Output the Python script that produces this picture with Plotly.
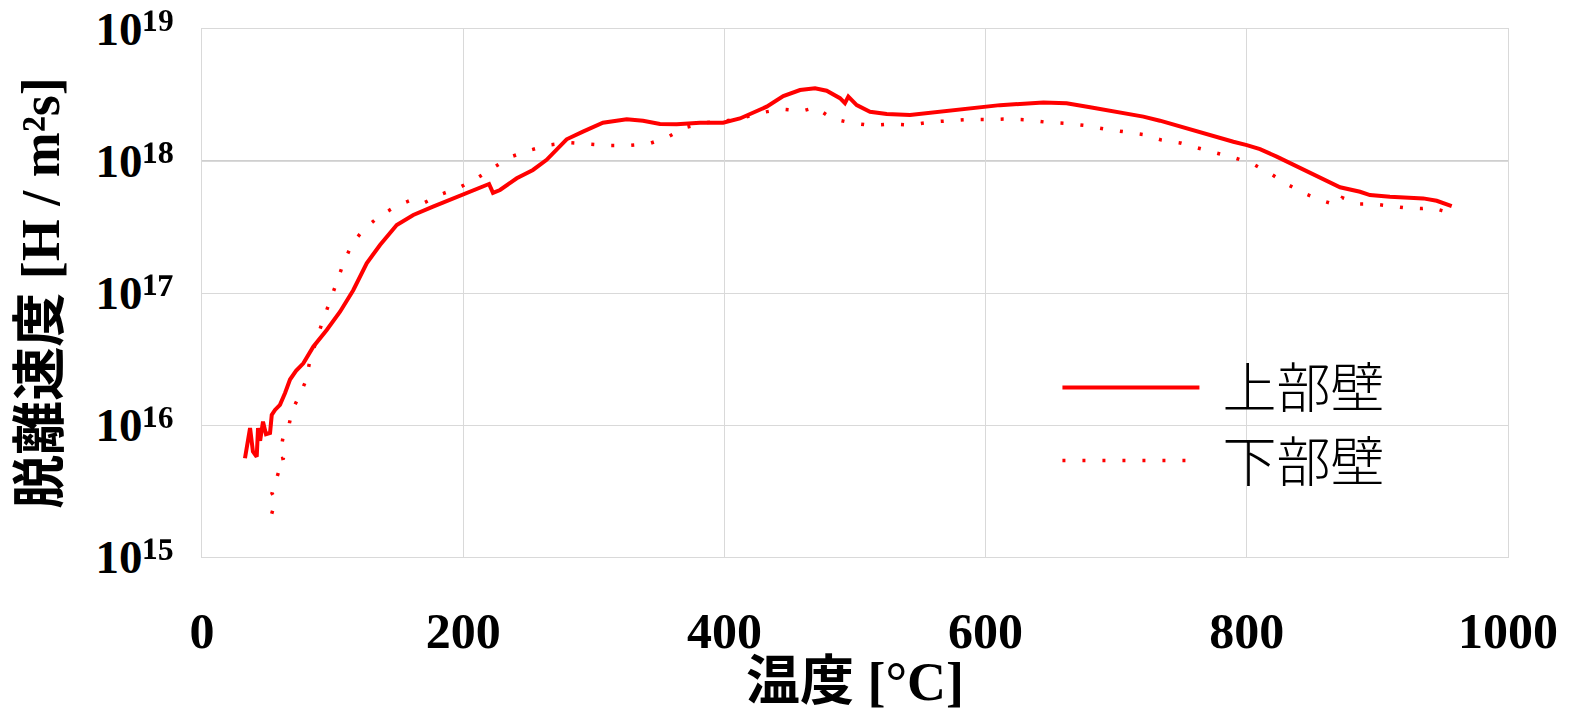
import plotly.graph_objects as go

# ---- data ----
upper_T = [32.9, 36.8, 39.0, 41.9, 42.9, 44.5, 46.7, 49.0, 52.1, 53.4, 55.9, 59.7, 63.6, 67.4, 72.0,
           77.6, 85.2, 95.5, 105.7, 115.8, 126.1, 136.3, 149.1, 161.8, 176.9, 190.0, 202.7, 215.4,
           219.8, 222.8, 228.2, 241.0, 253.4, 263.9, 279.2, 291.7, 307.0, 325.2, 337.7, 350.7, 363.5,
           381.3, 399.0, 411.9, 432.4, 445.1, 457.9, 469.4, 478.3, 488.5, 492.3, 494.9, 501.3, 511.5,
           524.3, 542.1, 560.0, 585.5, 611.0, 644.2, 662.0, 680.0, 705.4, 720.8, 733.5, 748.9, 761.6,
           777.0, 789.7, 800.0, 810.1, 822.9, 833.1, 845.9, 858.6, 871.4, 886.7, 894.3, 909.6, 924.9,
           935.1, 945.4, 950.5, 956.9]
upper_V = [5.60e15, 9.48e15, 6.31e15, 5.75e15, 9.48e15, 7.59e15, 1.06e16, 8.51e15, 8.71e15, 1.19e16,
           1.30e16, 1.42e16, 1.75e16, 2.21e16, 2.57e16, 2.93e16, 3.92e16, 5.25e16, 7.21e16, 1.05e17,
           1.68e17, 2.31e17, 3.27e17, 3.90e17, 4.51e17, 5.07e17, 5.69e17, 6.38e17, 6.70e17, 5.73e17,
           6.03e17, 7.40e17, 8.55e17, 1.02e18, 1.46e18, 1.67e18, 1.95e18, 2.07e18, 2.02e18, 1.91e18,
           1.90e18, 1.95e18, 1.95e18, 2.10e18, 2.58e18, 3.10e18, 3.45e18, 3.56e18, 3.41e18, 2.99e18,
           2.74e18, 3.07e18, 2.65e18, 2.36e18, 2.27e18, 2.23e18, 2.34e18, 2.51e18, 2.65e18, 2.77e18,
           2.74e18, 2.55e18, 2.32e18, 2.17e18, 2.02e18, 1.82e18, 1.67e18, 1.51e18, 1.40e18, 1.32e18,
           1.23e18, 1.08e18, 9.62e17, 8.30e17, 7.18e17, 6.32e17, 5.85e17, 5.52e17, 5.37e17, 5.27e17,
           5.21e17, 5.00e17, 4.83e17, 4.56e17]

lower_T = [53.4, 55.1, 56.4, 53.6, 55.1, 56.9, 60.6, 59.0, 62.3, 63.8, 61.3, 62.0, 65.8, 69.1, 74.0,
           79.6, 82.7, 92.4, 97.8, 103.1, 108.5, 115.1, 124.3, 136.1, 148.8, 161.6, 170.2, 183.5,
           197.8, 210.0, 222.6, 235.8, 250.2, 264.9, 280.5, 295.8, 311.4, 326.7, 342.0, 356.3, 369.8,
           385.0, 400.0, 415.0, 430.0, 443.9, 459.2, 469.9, 482.6, 497.5, 512.5, 527.3, 542.1, 556.9,
           571.7, 586.3, 601.8, 616.6, 631.9, 646.0, 660.8, 675.9, 690.9, 705.2, 720.3, 734.8, 749.1,
           763.2, 776.4, 791.5, 805.7, 818.5, 831.5, 844.6, 857.8, 869.6, 873.1, 886.2, 897.2, 909.4,
           921.9, 933.9, 941.8, 949.5, 957.1]
lower_V = [2.13e15, 2.40e15, 2.70e15, 3.04e15, 3.45e15, 3.88e15, 5.07e15, 5.52e15, 5.60e15, 6.58e15,
           7.31e15, 8.02e15, 9.16e15, 1.30e16, 1.62e16, 2.17e16, 3.10e16, 6.14e16, 8.55e16, 1.21e17,
           1.70e17, 2.37e17, 3.07e17, 3.83e17, 4.56e17, 5.13e17, 4.83e17, 5.62e17, 6.35e17, 7.35e17,
           8.85e17, 1.07e18, 1.20e18, 1.32e18, 1.38e18, 1.34e18, 1.31e18, 1.31e18, 1.35e18, 1.51e18,
           1.79e18, 1.95e18, 2.00e18, 2.14e18, 2.34e18, 2.47e18, 2.39e18, 2.54e18, 2.09e18, 1.94e18,
           1.86e18, 1.91e18, 1.87e18, 1.97e18, 2.01e18, 2.06e18, 2.06e18, 2.08e18, 2.05e18, 1.97e18,
           1.93e18, 1.86e18, 1.75e18, 1.67e18, 1.59e18, 1.44e18, 1.37e18, 1.25e18, 1.16e18, 1.05e18,
           9.38e17, 7.98e17, 6.61e17, 5.65e17, 5.00e17, 4.61e17, 5.27e17, 4.72e17, 4.72e17, 4.56e17,
           4.41e17, 4.36e17, 4.43e17, 4.21e17, 4.02e17]

series_names = ["上部壁", "下部壁"]
x_ticks = [0, 200, 400, 600, 800, 1000]
y_ticks = [1e15, 1e16, 1e17, 1e18, 1e19]
y_exponents = ["¹⁵", "¹⁶", "¹⁷", "¹⁸", "¹⁹"]
axis_cross = 1e18
x_title = "温度 [°C]"
y_title = "脱離速度 [H / m²s]"

RED = "#FF0000"
GRID = "#D9D9D9"
TICK_FONT = "Liberation Serif, 'Times New Roman', 'DejaVu Serif', serif"
TITLE_FONT = "Liberation Serif, 'Noto Sans CJK JP', serif"
GAP = "\u2004"

y_ticktext = ["10<span style='font-size:52px'>" + e + "</span>" for e in y_exponents]

fig = go.Figure()
fig.add_trace(go.Scatter(x=upper_T, y=upper_V, mode="lines", name=GAP + series_names[0],
                         line=dict(color=RED, width=4)))
fig.add_trace(go.Scatter(x=lower_T, y=lower_V, mode="lines", name=GAP + series_names[1],
                         line=dict(color=RED, width=3.5, dash="3px,17px")))

fig.add_shape(type="line", xref="paper", x0=0, x1=1, yref="y", y0=axis_cross, y1=axis_cross,
              line=dict(color="#BFBFBF", width=1.3), layer="below")

fig.update_layout(
    width=1570, height=712,
    margin=dict(l=202, r=62, t=29, b=155),
    plot_bgcolor="white", paper_bgcolor="white",
    showlegend=True,
    legend=dict(x=0.655, y=0.40, xanchor="left", yanchor="top",
                font=dict(family="Noto Sans CJK JP", size=54, color="black", weight=300),
                itemwidth=137, bgcolor="rgba(0,0,0,0)", tracegroupgap=0),
    xaxis=dict(range=[0, 1000], tickvals=x_ticks, ticktext=[str(t) for t in x_ticks],
               showgrid=True, gridcolor=GRID, gridwidth=1, zeroline=False,
               showline=True, linecolor=GRID, linewidth=1, mirror=True, automargin=False,
               ticks="", ticklabelstandoff=30, ticklabeloverflow="allow",
               tickfont=dict(family=TICK_FONT, size=50, color="black", weight="bold"),
               title=dict(text=x_title, standoff=12,
                          font=dict(family=TITLE_FONT, size=54, color="black", weight="bold"))),
    yaxis=dict(type="log", range=[15, 19], tickvals=y_ticks, ticktext=y_ticktext,
               showgrid=True, gridcolor=GRID, gridwidth=1, zeroline=False,
               showline=True, linecolor=GRID, linewidth=1, mirror=True, automargin=False,
               ticks="", ticklabelstandoff=18, ticklabeloverflow="allow",
               tickfont=dict(family=TICK_FONT, size=47, color="black", weight="bold"),
               title=dict(text=y_title, standoff=18,
                          font=dict(family=TITLE_FONT, size=54, color="black", weight="bold"))),
)

fig.write_html("out.html")
